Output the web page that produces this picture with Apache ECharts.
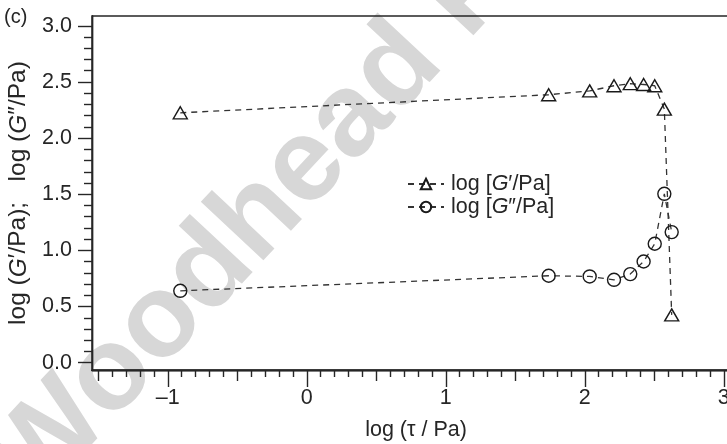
<!DOCTYPE html>
<html>
<head>
<meta charset="utf-8">
<script src="https://cdn.jsdelivr.net/npm/echarts@6/dist/echarts.min.js"></script>
<style>
  html, body { margin: 0; padding: 0; background: #fff; }
  #chart { width: 727px; height: 444px; }
</style>
</head>
<body>
<div id="chart"></div>
<script>
// log of shear stress (tau / Pa), shared by both moduli
const logTau = [-0.91, 1.74, 2.035, 2.21, 2.327, 2.423, 2.503, 2.572, 2.625];
// storage modulus, log (G'/Pa)
const logGp = [2.225, 2.386, 2.42, 2.466, 2.484, 2.477, 2.466, 2.258, 0.426];
// loss modulus, log (G''/Pa)
const logGpp = [0.64, 0.774, 0.768, 0.738, 0.789, 0.901, 1.059, 1.504, 1.163];

// tick positions
const xLabelTicks = [-1, 0, 1, 2, 3];
const xHalfTicks = [-1.5, -0.5, 0.5, 1.5, 2.5];
const xMinorTicks = [];
for (let i = -15; i <= 30; i++) if (i % 5 !== 0) xMinorTicks.push(i / 10);
const yLabelTicks = [0, 0.5, 1, 1.5, 2, 2.5, 3];
const yMinorTicks = [];
for (let i = 0; i <= 30; i++) if (i % 5 !== 0) yMinorTicks.push(i / 10);

const FONT = 'Liberation Sans, Arial, Helvetica, sans-serif';
const INK = '#262626';
const FS = 21.5;
const X_MIN = -1.545, X_MAX = 3.03;
const Y_MIN = -0.065, Y_MAX = 3.087;

const chart = echarts.init(document.getElementById('chart'), null, { renderer: 'canvas' });

function pairs(xs, ys) { return xs.map((x, i) => [x, ys[i]]); }

function richSet(size) {
  return {
    n: { fontFamily: FONT, fontSize: size, color: INK },
    i: { fontFamily: FONT, fontSize: size, color: INK, fontStyle: 'italic' }
  };
}

function xAxisLayer(ticks, len, labels) {
  return {
    type: 'value', min: X_MIN, max: X_MAX, position: 'bottom', offset: 0,
    axisLine: { show: true, onZero: false, lineStyle: { color: INK, width: 1.4 } },
    axisTick: { show: true, customValues: ticks, length: len, lineStyle: { color: INK, width: 1.4 } },
    axisLabel: labels ? {
      show: true, customValues: labels, margin: 17, fontFamily: FONT, fontSize: FS, color: INK,
      formatter: v => (v < 0 ? '\u2013' + Math.abs(v) : String(v))
    } : { show: false },
    splitLine: { show: false }
  };
}

function yAxisLayer(ticks, len, labels) {
  return {
    type: 'value', min: Y_MIN, max: Y_MAX, position: 'left', offset: 0,
    axisLine: { show: true, onZero: false, lineStyle: { color: INK, width: 1.4 } },
    axisTick: { show: true, customValues: ticks, length: len, lineStyle: { color: INK, width: 1.4 } },
    axisLabel: labels ? {
      show: true, customValues: labels, margin: 20, fontFamily: FONT, fontSize: FS, color: INK,
      formatter: v => v.toFixed(1)
    } : { show: false },
    splitLine: { show: false }
  };
}

const xMain = xAxisLayer(xLabelTicks, 17, xLabelTicks);
xMain.name = 'log (\u03c4 / Pa)';
xMain.nameLocation = 'middle';
xMain.nameGap = 49;
xMain.nameTextStyle = { fontFamily: FONT, fontSize: FS, color: INK, padding: [0, 0, 0, 12] };

const yMain = yAxisLayer(yLabelTicks, 14, yLabelTicks);
yMain.name = '{n|log (}{i|G}{n|\u2032/Pa);   log (}{i|G}{n|\u2033/Pa)}';
yMain.nameLocation = 'middle';
yMain.nameGap = 58;
yMain.nameTextStyle = { rich: richSet(24.5) };

const markerStyle = { color: 'rgba(255,255,255,0)', borderColor: '#1a1a1a', borderWidth: 1.4 };
const dashStyle = { color: '#333', width: 1.3, type: [6, 5] };

chart.setOption({
  animation: false,
  backgroundColor: '#fff',
  grid: {
    left: 92, top: 16, width: 636, height: 354, outerBoundsMode: 'none', containLabel: false,
    show: true, borderColor: INK, borderWidth: 1.4, backgroundColor: 'transparent'
  },
  xAxis: [xMain, xAxisLayer(xHalfTicks, 11, null), xAxisLayer(xMinorTicks, 7, null)],
  yAxis: [yMain, yAxisLayer(yMinorTicks, 8, null)],
  legend: {
    orient: 'vertical', left: 402, top: 168, itemWidth: 36, itemHeight: 13, itemGap: 1,
    textStyle: { rich: richSet(FS), padding: [0, 0, 0, 2] },
    formatter: name => name === "log [G'/Pa]" ? '{n|log [}{i|G}{n|\u2032/Pa]}' : '{n|log [}{i|G}{n|\u2033/Pa]}',
    data: ["log [G'/Pa]", "log [G''/Pa]"]
  },
  graphic: [
    {
      type: 'text', x: 12, y: 482, rotation: 0.82, z: -10, silent: true,
      style: { text: 'Woodhead Publishing', fontFamily: FONT, fontWeight: 'bold', fontSize: 118,
               fill: '#d7d7d7', textAlign: 'left', textVerticalAlign: 'middle' }
    },
    {
      type: 'text', x: 4, y: 17, z: 10,
      style: { text: '(c)', fontFamily: FONT, fontSize: 20, fill: INK, textAlign: 'left', textVerticalAlign: 'middle' }
    }
  ],
  series: [
    {
      name: "log [G'/Pa]", type: 'line', xAxisIndex: 0, yAxisIndex: 0,
      data: pairs(logTau, logGp),
      symbol: 'triangle', symbolSize: [14, 12], showAllSymbol: true,
      itemStyle: markerStyle, lineStyle: dashStyle, z: 5
    },
    {
      name: "log [G''/Pa]", type: 'line', xAxisIndex: 0, yAxisIndex: 0,
      data: pairs(logTau, logGpp),
      symbol: 'circle', symbolSize: 13, showAllSymbol: true,
      itemStyle: markerStyle, lineStyle: dashStyle, z: 5
    }
  ]
});
</script>
</body>
</html>
